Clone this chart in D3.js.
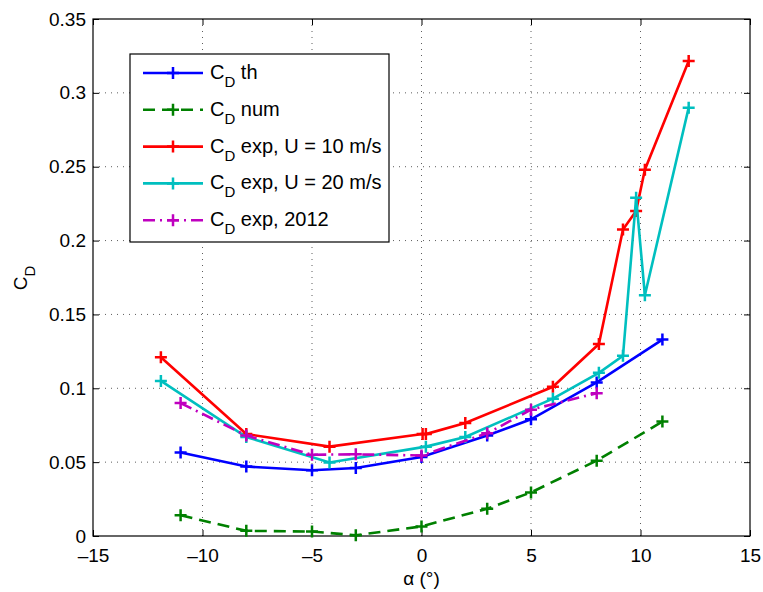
<!DOCTYPE html>
<html>
<head>
<meta charset="utf-8">
<script src="https://cdn.jsdelivr.net/npm/d3@7"></script>
<style>
  body { margin: 0; background: #fff; }
  text { font-family: "Liberation Sans", Arial, sans-serif; }
</style>
</head>
<body>
<svg id="chart" width="763" height="592"></svg>
<script>
// data
const alphaTh = [-11, -8, -5, -3, 0, 3, 5, 8, 11];
const cdTh = [0.0565, 0.047, 0.0445, 0.046, 0.0535, 0.068, 0.079, 0.104, 0.133];

const alphaNum = [-11, -8, -5, -3, 0, 3, 5, 8, 11];
const cdNum = [0.014, 0.0035, 0.003, 0.0005, 0.0065, 0.0185, 0.0295, 0.051, 0.0775];

const alphaU10 = [-11.9, -8, -4.2, 0.05, 0.2, 2, 6, 8.1, 9.2, 9.8, 10.2, 12.2];
const cdU10 = [0.121, 0.069, 0.0605, 0.069, 0.069, 0.0765, 0.101, 0.13, 0.2075, 0.22, 0.248, 0.3215];

const alphaU20 = [-11.9, -8, -4.2, 0.2, 2, 6, 8.1, 9.2, 9.8, 10.2, 12.2];
const cdU20 = [0.105, 0.067, 0.0498, 0.0605, 0.067, 0.093, 0.1105, 0.122, 0.229, 0.163, 0.29];

const alpha2012 = [-11, -8, -5, -3, 0, 3, 5, 8];
const cd2012 = [0.09, 0.068, 0.055, 0.0553, 0.0545, 0.0695, 0.0855, 0.0967];

const xTicks = [-15, -10, -5, 0, 5, 10, 15];
const yTicks = [0, 0.05, 0.1, 0.15, 0.2, 0.25, 0.3, 0.35];

const series = [
    { name: "th", xs: alphaTh, ys: cdTh, color: "#0000ff", dash: null, label: " th" },
    { name: "num", xs: alphaNum, ys: cdNum, color: "#008000", dash: "12,7", label: " num" },
    { name: "u10", xs: alphaU10, ys: cdU10, color: "#ff0000", dash: null, label: " exp, U = 10 m/s" },
    { name: "u20", xs: alphaU20, ys: cdU20, color: "#00bfbf", dash: null, label: " exp, U = 20 m/s" },
    { name: "e2012", xs: alpha2012, ys: cd2012, color: "#bf00bf", dash: "12,5,2,5", label: " exp, 2012" }
];

const svg = d3.select("#chart");
const plotLeft = 93, plotRight = 750, plotTop = 19, plotBottom = 536;

const x = d3.scaleLinear().domain([-15, 15]).range([plotLeft, plotRight]);
const y = d3.scaleLinear().domain([0, 0.35]).range([plotBottom, plotTop]);

// grid
const grid = svg.append("g").attr("class", "grid");
xTicks.slice(1, -1).forEach(t => {
    grid.append("line")
        .attr("x1", x(t)).attr("x2", x(t))
        .attr("y1", plotTop).attr("y2", plotBottom)
        .style("stroke", "#333")
        .style("stroke-width", 0.8)
        .style("stroke-dasharray", "1,5");
});
yTicks.slice(1, -1).forEach(t => {
    grid.append("line")
        .attr("x1", plotLeft).attr("x2", plotRight)
        .attr("y1", y(t)).attr("y2", y(t))
        .style("stroke", "#333")
        .style("stroke-width", 0.8)
        .style("stroke-dasharray", "1,5");
});

// axes (ticks inward, matlab style)
const fmtX = d => d < 0 ? "\u2013" + Math.abs(d) : String(d);
const fmtY = d => d === 0 ? "0" : String(+d.toFixed(2));

function styleAxis(g) {
    g.select(".domain").remove();
    g.selectAll("line").style("stroke", "#000").style("stroke-width", 1);
    g.selectAll("text").style("font-size", "19px").attr("fill", "#000");
}

svg.append("g")
    .attr("transform", `translate(0,${plotBottom})`)
    .call(d3.axisBottom(x).tickValues(xTicks).tickFormat(fmtX).tickSizeInner(-6).tickPadding(13))
    .call(styleAxis);
svg.append("g")
    .attr("transform", `translate(0,${plotTop})`)
    .call(d3.axisTop(x).tickValues(xTicks).tickFormat("").tickSizeInner(-6))
    .call(styleAxis);
svg.append("g")
    .attr("transform", `translate(${plotLeft},0)`)
    .call(d3.axisLeft(y).tickValues(yTicks).tickFormat(fmtY).tickSizeInner(-6).tickPadding(7))
    .call(styleAxis);
svg.append("g")
    .attr("transform", `translate(${plotRight},0)`)
    .call(d3.axisRight(y).tickValues(yTicks).tickFormat("").tickSizeInner(-6))
    .call(styleAxis);

svg.append("rect")
    .attr("x", plotLeft).attr("y", plotTop)
    .attr("width", plotRight - plotLeft).attr("height", plotBottom - plotTop)
    .style("fill", "none")
    .style("stroke", "#000")
    .style("stroke-width", 1.2);

// series
const line = d3.line().x(d => x(d[0])).y(d => y(d[1]));
const plus = 6;

function drawPlus(g, cx, cy, color) {
    g.append("path")
        .attr("d", `M${cx - plus},${cy}H${cx + plus}M${cx},${cy - plus}V${cy + plus}`)
        .style("stroke", color)
        .style("stroke-width", 2.5)
        .style("fill", "none");
}

series.forEach(s => {
    const pts = s.xs.map((v, i) => [v, s.ys[i]]);
    const g = svg.append("g").attr("class", "series " + s.name);
    g.append("path")
        .datum(pts)
        .attr("d", line)
        .style("fill", "none")
        .style("stroke", s.color)
        .style("stroke-width", 2.6)
        .style("stroke-dasharray", s.dash);
    pts.forEach(p => drawPlus(g, x(p[0]), y(p[1]), s.color));
});

// legend
const legend = svg.append("g").attr("class", "legend");
legend.append("rect")
    .attr("x", 130).attr("y", 54)
    .attr("width", 259).attr("height", 188)
    .style("fill", "#fff")
    .style("stroke", "#000")
    .style("stroke-width", 1.2);

series.forEach((s, i) => {
    const ly = 73 + i * 36.8;
    legend.append("line")
        .attr("x1", 143).attr("x2", 203)
        .attr("y1", ly).attr("y2", ly)
        .style("stroke", s.color)
        .style("stroke-width", 2.6)
        .style("stroke-dasharray", s.dash);
    drawPlus(legend, 173, ly, s.color);
    const t = legend.append("text")
        .attr("x", 210).attr("y", ly + 6)
        .style("font-size", "20px");
    t.append("tspan").text("C");
    t.append("tspan").attr("dy", 8).style("font-size", "15px").text("D");
    t.append("tspan").attr("dy", -8).text(s.label);
});

// axis labels
const yl = svg.append("text")
    .attr("transform", "translate(27,278) rotate(-90)")
    .attr("text-anchor", "middle")
    .style("font-size", "19px");
yl.append("tspan").text("C");
yl.append("tspan").attr("dy", 8).style("font-size", "15px").text("D");

svg.append("text")
    .attr("x", x(0)).attr("y", 585)
    .attr("text-anchor", "middle")
    .style("font-size", "19px")
    .text("\u03b1 (\u00b0)");
</script>
</body>
</html>
